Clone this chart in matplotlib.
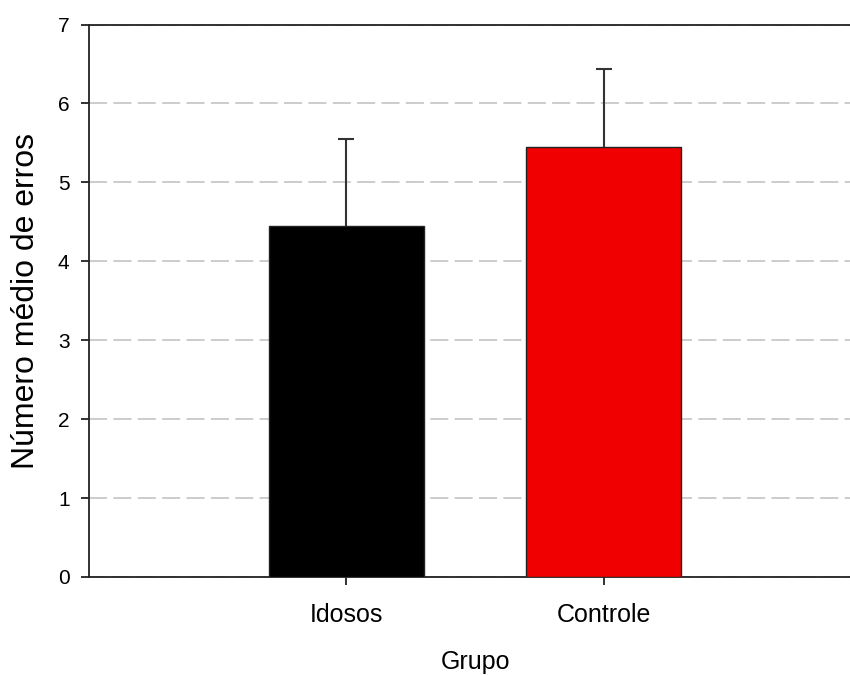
import matplotlib.pyplot as plt

plt.rcParams['font.family'] = ['Liberation Sans', 'DejaVu Sans']

grupos = ['Idosos', 'Controle']
medias = [4.45, 5.45]
erros = [1.10, 0.99]
cores = ['#000000', '#f00000']

fig = plt.figure(figsize=(8.5, 6.75), dpi=100)
ax = fig.add_axes([89 / 850, 98 / 675, 772 / 850, 552.5 / 675])

pos = [1, 2]
topos = [m + e for m, e in zip(medias, erros)]
ax.bar(pos, medias, width=0.6, color=cores, edgecolor='#222222', linewidth=1.0, zorder=3)

# only the upper half of the error bar, with a cap on top
ax.vlines(pos, medias, topos, colors='#333333', linewidth=1.5, zorder=4)
ax.plot(pos, topos, linestyle='none', marker='_', markersize=12,
        markeredgewidth=1.5, color='#333333', zorder=4)

ax.set_xlim(0, 3)
ax.set_ylim(0, 7)
ax.set_xticks(pos)
ax.set_xticklabels(grupos)
ax.set_yticks(range(0, 8))

ax.yaxis.grid(True, linestyle=(0, (10, 3.5)), color='#c8c8c8', linewidth=1.3, zorder=0)
ax.set_axisbelow(True)

for s in ['left', 'bottom', 'top']:
    ax.spines[s].set_color('#222222')
    ax.spines[s].set_linewidth(1.3)
ax.spines['right'].set_visible(False)

ax.tick_params(axis='y', direction='out', length=6, width=1.3, color='#222222',
               labelsize=15, pad=8)
ax.tick_params(axis='x', direction='out', length=6, width=1.3, color='#222222',
               labelsize=18, pad=13)

ax.set_xlabel('Grupo', fontsize=18, labelpad=16)
ax.set_ylabel('Número médio de erros', fontsize=23, labelpad=12)

fig.savefig('out.png', dpi=100)
